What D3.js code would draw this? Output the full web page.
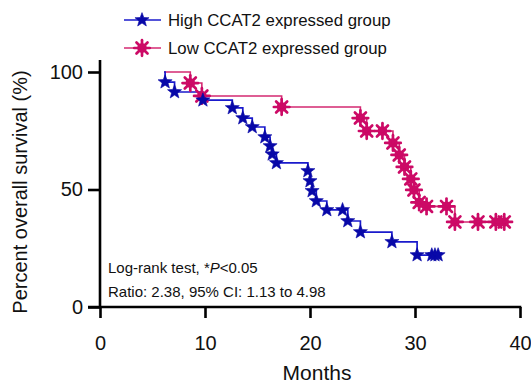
<!DOCTYPE html>
<html>
<head>
<meta charset="utf-8">
<script src="https://cdn.jsdelivr.net/npm/d3@7"></script>
<style>
  body { margin: 0; background: #fff; }
  text { font-family: "Liberation Sans", Arial, sans-serif; }
</style>
</head>
<body>
<svg id="chart" width="531" height="386"></svg>
<script>
// survival data [month, percent] - first point is the start of the curve (no marker)
const highGroup = [
  [6.1, 100], [6.2, 95.7], [7.1, 91.5], [9.8, 88], [12.6, 84.7], [13.6, 80.4],
  [14.5, 76.6], [15.7, 72.3], [16.2, 68.5], [16.4, 65], [16.8, 61.3],
  [19.8, 57.9], [20.0, 53.6], [20.2, 49.4], [20.6, 45.1], [21.6, 41.3],
  [23.1, 41.3], [23.6, 36.6], [24.8, 31.9], [27.8, 27.7], [30.2, 22.1],
  [31.6, 22.1], [31.9, 22.1], [32.2, 22.1]
]
const lowGroup = [
  [6.1, 100], [8.6, 95.3], [9.7, 89.8], [17.3, 85.1], [24.8, 80.4],
  [25.4, 74.9], [26.9, 74.9], [27.9, 69.8], [28.5, 64.7], [29.0, 59.6],
  [29.6, 54.5], [29.9, 49.8], [30.4, 44.5], [31.1, 42.8], [33.0, 42.8],
  [33.8, 36.2], [36.0, 36.2], [37.7, 36.2], [38.5, 36.2]
]
const xTicks = [0, 10, 20, 30, 40]
const yTicks = [0, 50, 100]
const legendLabels = ['High CCAT2 expressed group', 'Low CCAT2 expressed group']
const statLines = ['Log-rank test, *', 'Ratio: 2.38, 95% CI: 1.13 to 4.98']

const blueLine = '#1a1acc', blueMark = '#0808a8'
const pinkLine = '#d42a72', pinkMark = '#cc0a66'

const svg = d3.select('#chart')

const x = d3.scaleLinear().domain([0, 40]).range([100, 520])
const y = d3.scaleLinear().domain([0, 100]).range([307, 72])

function starPath(ro, ri) {
    const pts = []
    for (let i = 0; i < 10; i++) {
        const r = i % 2 === 0 ? ro : ri
        const a = -Math.PI / 2 + i * Math.PI / 5
        pts.push([r * Math.cos(a), r * Math.sin(a)])
    }
    return 'M' + pts.map(p => p.join(',')).join('L') + 'Z'
}

function drawStar(g, cx, cy) {
    g.append('path')
        .attr('d', starPath(7.4, 3.1))
        .attr('transform', 'translate(' + cx + ',' + cy + ')')
        .attr('fill', blueMark)
        .attr('stroke', blueMark)
        .attr('stroke-width', 0.6)
}

function drawGear(g, cx, cy) {
    const m = g.append('g').attr('transform', 'translate(' + cx + ',' + cy + ')')
    m.append('circle').attr('r', 4.8).attr('fill', pinkMark)
    for (let i = 0; i < 8; i++) {
        const a = i * Math.PI / 4
        m.append('line')
            .attr('x1', 0).attr('y1', 0)
            .attr('x2', 7.8 * Math.cos(a)).attr('y2', 7.8 * Math.sin(a))
            .attr('stroke', pinkMark)
            .attr('stroke-width', 2.7)
            .attr('stroke-linecap', 'round')
    }
}

// axes
const yAxis = svg.append('g')
    .attr('transform', 'translate(100,0)')
    .call(d3.axisLeft(y).tickValues(yTicks).tickSize(12).tickPadding(5).tickSizeOuter(0))
yAxis.select('.domain').remove()

const xAxis = svg.append('g')
    .attr('transform', 'translate(0,307)')
    .call(d3.axisBottom(x).tickValues(xTicks).tickSize(11).tickPadding(18).tickSizeOuter(0))
xAxis.select('.domain').remove()

svg.selectAll('.tick line').attr('stroke', '#000').attr('stroke-width', 2.6)
svg.selectAll('.tick text')
    .attr('font-size', 20)
    .attr('fill', '#111')
    .style('font-family', '"Liberation Sans", Arial, sans-serif')

svg.append('line')
    .attr('x1', x(0)).attr('x2', x(0))
    .attr('y1', y(0) + 1.3).attr('y2', 60)
    .attr('stroke', '#000').attr('stroke-width', 2.6)
svg.append('line')
    .attr('x1', 88).attr('x2', x(40) + 1.3)
    .attr('y1', y(0)).attr('y2', y(0))
    .attr('stroke', '#000').attr('stroke-width', 2.6)

// axis titles
svg.append('text')
    .attr('transform', 'translate(27,192) rotate(-90)')
    .attr('text-anchor', 'middle')
    .attr('font-size', 20)
    .attr('fill', '#111')
    .text('Percent overall survival (%)')

svg.append('text')
    .attr('x', 317).attr('y', 380)
    .attr('text-anchor', 'middle')
    .attr('font-size', 21)
    .attr('fill', '#111')
    .text('Months')

// survival curves
const line = d3.line()
    .x(d => x(d[0]))
    .y(d => y(d[1]))
    .curve(d3.curveStepAfter)

svg.append('path')
    .datum(lowGroup)
    .attr('fill', 'none')
    .attr('stroke', pinkLine)
    .attr('stroke-width', 1.6)
    .attr('d', line)

svg.append('path')
    .datum(highGroup)
    .attr('fill', 'none')
    .attr('stroke', blueLine)
    .attr('stroke-width', 1.7)
    .attr('d', line)

const pinkMarks = svg.append('g')
lowGroup.slice(1).forEach(d => drawGear(pinkMarks, x(d[0]), y(d[1])))
const blueMarks = svg.append('g')
highGroup.slice(1).forEach(d => drawStar(blueMarks, x(d[0]), y(d[1])))

// legend
const legend = svg.append('g')
legendLabels.forEach(function (label, i) {
    const ly = 20 + i * 28
    legend.append('line')
        .attr('x1', 124).attr('x2', 161)
        .attr('y1', ly).attr('y2', ly)
        .attr('stroke', i === 0 ? blueLine : pinkLine)
        .attr('stroke-width', 1.6)
    if (i === 0) drawStar(legend, 142, ly)
    else drawGear(legend, 142, ly)
    legend.append('text')
        .attr('x', 168).attr('y', ly + 6)
        .attr('font-size', 16.8)
        .attr('fill', '#111')
        .text(label)
})

// stats annotation
const stat1 = svg.append('text')
    .attr('x', 108).attr('y', 273)
    .attr('font-size', 15)
    .attr('fill', '#111')
stat1.append('tspan').text(statLines[0])
stat1.append('tspan').attr('font-style', 'italic').text('P')
stat1.append('tspan').text('<0.05')

svg.append('text')
    .attr('x', 108).attr('y', 297)
    .attr('font-size', 15)
    .attr('fill', '#111')
    .text(statLines[1])
</script>
</body>
</html>
